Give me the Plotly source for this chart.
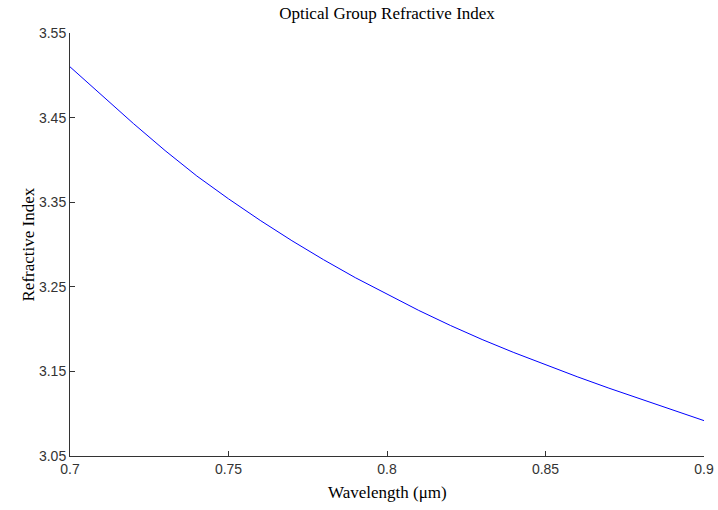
import plotly.graph_objects as go

wavelength = [0.70, 0.71, 0.72, 0.73, 0.74, 0.75, 0.76, 0.77, 0.78, 0.79, 0.80,
              0.81, 0.82, 0.83, 0.84, 0.85, 0.86, 0.87, 0.88, 0.89, 0.90]
group_index = [3.510, 3.476, 3.443, 3.411, 3.381, 3.354, 3.3285, 3.3045, 3.282, 3.2608, 3.241,
               3.2221, 3.2043, 3.1877, 3.1723, 3.1577, 3.1437, 3.1302, 3.1171, 3.1043, 3.0918]

x_ticks = [0.7, 0.75, 0.8, 0.85, 0.9]
x_labels = ["0.7", "0.75", "0.8", "0.85", "0.9"]
y_ticks = [3.05, 3.15, 3.25, 3.35, 3.45, 3.55]
y_labels = ["3.05", "3.15", "3.25", "3.35", "3.45", "3.55"]

fig = go.Figure(go.Scatter(x=wavelength, y=group_index, mode="lines",
                           line=dict(color="#0000ff", width=1)))

tickfont = dict(family="Liberation Sans, Arial, sans-serif", size=14, color="#333")
serif = dict(family="Liberation Serif, Times New Roman, serif", size=17, color="#000")

axis_common = dict(ticks="inside", ticklen=5, tickcolor="#333", showline=True,
                   linecolor="#333", linewidth=1, showgrid=False, zeroline=False,
                   tickfont=tickfont, automargin=False)

fig.update_layout(
    width=718, height=510,
    margin=dict(l=70, r=14, t=33, b=54),
    paper_bgcolor="white", plot_bgcolor="white",
    showlegend=False,
    title=dict(text="Optical Group Refractive Index", x=387 / 718, xanchor="center",
               y=1 - 13 / 510, yanchor="middle", font=serif),
    xaxis=dict(range=[0.7, 0.9], tickvals=x_ticks, ticktext=x_labels, **axis_common),
    yaxis=dict(range=[3.05, 3.55], tickvals=y_ticks, ticktext=y_labels, **axis_common),
    annotations=[
        dict(text="Wavelength (μm)", xref="paper", yref="paper", x=0.5, y=0,
             xanchor="center", yanchor="middle", yshift=-36, showarrow=False, font=serif),
        dict(text="Refractive Index", xref="paper", yref="paper", x=0, y=0.5,
             xanchor="center", yanchor="middle", xshift=-42, textangle=-90,
             showarrow=False, font=serif),
    ],
)

fig.write_html("out.html")
